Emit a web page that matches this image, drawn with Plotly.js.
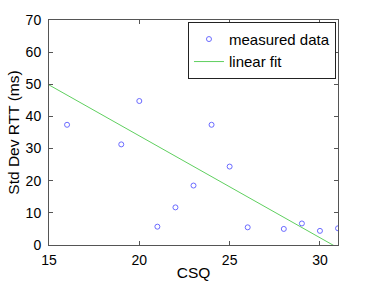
<!DOCTYPE html>
<html>
<head>
<meta charset="utf-8">
<script src="https://cdn.plot.ly/plotly-3.0.1.min.js"></script>
<style>html,body{margin:0;padding:0;background:#fff;}#chart{width:374px;height:281px;}</style>
</head>
<body>
<div id="chart"></div>
<script>
// Measured data
const csq = [16, 19, 20, 21, 22, 23, 24, 25, 26, 28, 29, 30, 31];
const stdDevRtt = [37.4, 31.3, 44.8, 5.7, 11.7, 18.5, 37.4, 24.4, 5.5, 5.0, 6.7, 4.4, 5.2];
// Linear fit line (end points)
const fitX = [15, 31];
const fitY = [49.8, -0.9];
// Axis ticks
const xTicks = [15, 20, 25, 30];
const yTicks = [0, 10, 20, 30, 40, 50, 60, 70];

const font = {family: 'Liberation Sans, Arial, Helvetica, sans-serif', color: '#000'};

const traces = [
  {x: csq, y: stdDevRtt, type: 'scatter', mode: 'markers', name: 'measured data',
   marker: {symbol: 'circle-open', size: 5, color: '#6a6aff', line: {width: 1, color: '#6a6aff'}}},
  {x: fitX, y: fitY, type: 'scatter', mode: 'lines', name: 'linear fit',
   line: {color: '#5fcf5f', width: 1}}
];

const axisCommon = {
  showgrid: false, zeroline: false, showline: true, linecolor: '#555', linewidth: 1,
  mirror: 'ticks', ticks: 'inside', ticklen: 4, tickcolor: '#555', tickwidth: 1,
  tickfont: Object.assign({size: 14}, font), automargin: false
};

const layout = {
  width: 374, height: 281,
  margin: {l: 49, r: 36, t: 20, b: 36},
  paper_bgcolor: '#fff', plot_bgcolor: '#fff',
  font: font,
  showlegend: true,
  legend: {x: 0.993, y: 0.992, xanchor: 'right', yanchor: 'top',
           bordercolor: '#222', borderwidth: 1, bgcolor: '#fff',
           font: Object.assign({size: 15}, font), tracegroupgap: 0},
  xaxis: Object.assign({}, axisCommon, {
    range: [15, 31], tickvals: xTicks, ticktext: xTicks.map(String), ticklabelstandoff: 2,
    title: {text: 'CSQ', font: Object.assign({size: 15.5}, font), standoff: 2}
  }),
  yaxis: Object.assign({}, axisCommon, {
    range: [0, 70], tickvals: yTicks, ticktext: yTicks.map(String), ticklabelstandoff: 4,
    title: {text: 'Std Dev RTT (ms)', font: Object.assign({size: 15.5}, font), standoff: 2}
  })
};

Plotly.newPlot('chart', traces, layout, {displayModeBar: false, staticPlot: true});
</script>
</body>
</html>
